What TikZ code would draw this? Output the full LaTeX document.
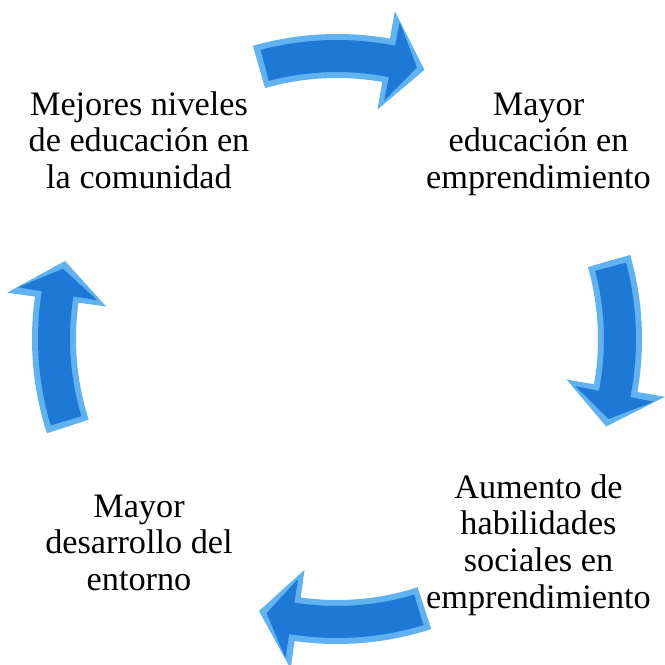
\documentclass[tikz,border=0pt]{standalone}
\usepackage{fontspec}
\setmainfont{Liberation Serif}
\usepackage{tikz}
\definecolor{bevelblue}{RGB}{96,178,240}
\definecolor{bodyblue}{RGB}{30,120,214}
\tikzset{
x=0.75pt, y=0.75pt, % one unit is one pixel of the reference
step text/.style={align=center, anchor=base, inner sep=0pt,
  font=\fontsize{25.7}{27.5}\selectfont}, % the four texts of the cycle (base = last line)
bevel/.style={fill=bevelblue}, % the light rim of each arrow
body/.style={fill=bodyblue}, % the face of each arrow
}
% one curved arrow of the cycle, #1 is its middle angle
\newcommand{\cyclearrow}[1]{%
\pgfmathsetmacro\ta{#1+16}\pgfmathsetmacro\tb{#1-10}\pgfmathsetmacro\tc{#1-18}%
\pgfmathsetmacro\tai{\ta-1.2}\pgfmathsetmacro\tbi{\tb-1.2}\pgfmathsetmacro\tci{\tc+1.6}%
\fill[bevel] (\ta:305) arc[start angle=\ta, end angle=\tb, radius=305]
  -- (\tb:333) -- (\tc:283) -- (\tb:233) -- (\tb:261)
  arc[start angle=\tb, end angle=\ta, radius=261] -- cycle;
\fill[body] (\tai:299) arc[start angle=\tai, end angle=\tbi, radius=299]
  -- (\tbi:323) -- (\tci:283) -- (\tbi:243) -- (\tbi:267)
  arc[start angle=\tbi, end angle=\tai, radius=267] -- cycle;
}

\begin{document}
\begin{tikzpicture}
\useasboundingbox (-337,-326) rectangle (328,339);

\node[step text] (niveles) at (-198,150.6) {Mejores niveles\\de educación en\\la comunidad};
\node[step text] (educacion) at (201.5,150.6) {Mayor\\educación en\\emprendimiento};
\node[step text] (habilidades) at (201.5,-269) {Aumento de\\habilidades\\sociales en\\emprendimiento};
\node[step text] (entorno) at (-198,-251.4) {Mayor\\desarrollo del\\entorno};

\cyclearrow{90}
\cyclearrow{0}
\cyclearrow{-88}
\cyclearrow{182}
\end{tikzpicture}
\end{document}
